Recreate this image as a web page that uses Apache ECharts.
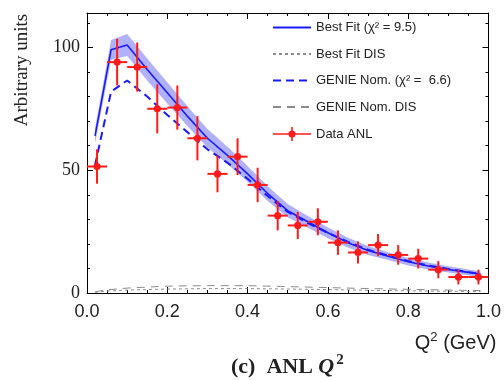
<!DOCTYPE html>
<html>
<head>
<meta charset="utf-8">
<script src="https://cdn.jsdelivr.net/npm/echarts@6/dist/echarts.min.js"></script>
<style>
  html, body { margin: 0; padding: 0; background: #fff; }
  #chart { width: 504px; height: 380px; }
</style>
</head>
<body>
<div id="chart"></div>
<script>
// Model curves sampled in Q^2 (GeV^2)
const curveQ2 = [0.02, 0.06, 0.10, 0.15, 0.20, 0.25, 0.30, 0.35, 0.40, 0.45, 0.50,
                 0.55, 0.60, 0.65, 0.70, 0.75, 0.80, 0.85, 0.90, 0.95, 0.98];
const bestFit = [64, 99, 101, 91, 81.5, 72, 63, 56, 48.5, 40.5, 33.5,
                 29, 24.5, 20.5, 17.3, 15, 12.7, 11, 9.6, 8.4, 7.7];
const bestFitUnc = [3, 4, 4.5, 4.5, 4.3, 4, 3.8, 3.5, 3.2, 3, 2.7,
                    2.4, 2.2, 2, 1.8, 1.6, 1.5, 1.4, 1.3, 1.2, 1.2];
const genieNom = [52, 82, 86.5, 80, 72.5, 65.5, 58.5, 53, 46.5, 39.5, 33,
                  28.5, 24.5, 20.8, 17.6, 15.2, 13, 11.2, 9.8, 8.5, 7.8];

// DIS contributions
const disQ2 = [0.02, 0.05, 0.10, 0.20, 0.30, 0.40, 0.50, 0.60, 0.70, 0.80, 0.90, 0.98];
const bestFitDIS = [0.3, 0.8, 1.2, 1.6, 1.8, 1.8, 1.6, 1.4, 1.1, 0.9, 0.7, 0.6];
const genieNomDIS = [0.5, 1.3, 2.0, 2.8, 3.0, 3.0, 2.6, 2.2, 1.8, 1.5, 1.2, 1.0];

// ANL data points (bin centres, values, uncertainties)
const dataQ2 = [0.025, 0.075, 0.125, 0.175, 0.225, 0.275, 0.325, 0.375, 0.425, 0.475,
                0.525, 0.575, 0.625, 0.675, 0.725, 0.775, 0.825, 0.875, 0.925, 0.975];
const dataVal = [51.5, 94, 92, 75, 75.5, 63, 48.5, 55.5, 44, 31.5,
                 27.5, 29, 20.5, 16.5, 19.5, 15.5, 14, 9.5, 6.5, 6.5];
const dataErr = [7, 9.5, 10, 10, 9, 9, 7.5, 7.5, 7, 6,
                 5.5, 5.5, 5, 4.5, 4.5, 4, 4, 3.5, 3, 3];
const binHalfWidth = 0.025;

const xTicks = [0, 0.2, 0.4, 0.6, 0.8, 1.0];
const yTicks = [0, 50, 100];

const SANS = '"Liberation Sans", Arial, sans-serif';
const SERIF = '"Liberation Serif", "Times New Roman", serif';
const BLUE = '#1a1aff';
const RED = '#ff1a1a';
const GREY = '#8c8c8c';
const INK = '#222';

const zip = (xs, ys) => xs.map((x, i) => [x, ys[i]]);
const points = dataQ2.map((x, i) => [x, dataVal[i], dataErr[i]]);

const frameAxisX = (pos, showLabels) => ({
  type: 'value', min: 0, max: 1, interval: 0.2, position: pos,
  axisLine: { show: true, onZero: false, lineStyle: { color: '#000', width: 1 } },
  axisTick: { show: true, inside: true, length: 6, lineStyle: { color: '#000' } },
  minorTick: { show: true, splitNumber: 4, length: 3, lineStyle: { color: '#000' } },
  splitLine: { show: false },
  axisLabel: showLabels ? {
    show: true, margin: 10, fontFamily: SANS, fontSize: 18, color: INK,
    formatter: v => xTicks.some(t => Math.abs(t - v) < 1e-9) ? v.toFixed(1) : ''
  } : { show: false }
});

const frameAxisY = (pos, showLabels) => ({
  type: 'value', min: 0, max: 114, interval: 50, position: pos,
  axisLine: { show: true, onZero: false, lineStyle: { color: '#000', width: 1 } },
  axisTick: { show: true, inside: true, length: 6, lineStyle: { color: '#000' } },
  minorTick: { show: true, splitNumber: 5, length: 3, lineStyle: { color: '#000' } },
  splitLine: { show: false },
  axisLabel: showLabels ? {
    show: true, margin: 7, fontFamily: SERIF, fontSize: 18, color: INK,
    showMaxLabel: false,
    formatter: v => yTicks.includes(v) ? String(v) : ''
  } : { show: false }
});

// legend entries for plain lines: hide the marker ECharts puts in the middle
const lineEntry = name => ({ name, itemStyle: { opacity: 0 } });

const chart = echarts.init(document.getElementById('chart'), null, { renderer: 'canvas' });

chart.setOption({
  animation: false,
  backgroundColor: '#fff',
  grid: { left: 87, right: 8, top: 13, bottom: 87, containLabel: false },
  xAxis: [
    Object.assign(frameAxisX('bottom', true), {
      name: '{q|Q}{s|2}{r| (GeV)}', nameLocation: 'end', nameGap: 8,
      nameTextStyle: {
        align: 'right', verticalAlign: 'top', padding: [38, 0, 0, 0],
        rich: {
          q: { fontFamily: SANS, fontSize: 20, color: INK, lineHeight: 22, verticalAlign: 'bottom' },
          s: { fontFamily: SANS, fontSize: 13, color: INK, lineHeight: 22, verticalAlign: 'top' },
          r: { fontFamily: SANS, fontSize: 20, color: INK, lineHeight: 22, verticalAlign: 'bottom' }
        }
      }
    }),
    frameAxisX('top', false)
  ],
  yAxis: [frameAxisY('left', true), frameAxisY('right', false)],
  title: {
    text: '{b|(c)}{g| }{n|ANL }{i|Q}{s|2}',
    left: 231, top: 353, padding: 0,
    textStyle: {
      rich: {
        b: { fontFamily: SERIF, fontSize: 22, fontWeight: 'bold', color: INK, lineHeight: 25, verticalAlign: 'bottom' },
        g: { fontFamily: SERIF, fontSize: 22, color: INK, lineHeight: 25, width: 11 },
        n: { fontFamily: SERIF, fontSize: 22, color: INK, lineHeight: 25, verticalAlign: 'bottom' },
        i: { fontFamily: SERIF, fontSize: 22, fontStyle: 'italic', color: INK, lineHeight: 25, verticalAlign: 'bottom' },
        s: { fontFamily: SERIF, fontSize: 15, color: INK, lineHeight: 25, verticalAlign: 'top', padding: [0, 0, 0, 2] }
      }
    }
  },
  graphic: [{
    type: 'text', x: 22, y: 70, rotation: Math.PI / 2,
    style: { text: 'Arbitrary units', fontFamily: SERIF, fontSize: 19, fill: INK,
             textAlign: 'center', textVerticalAlign: 'middle' }
  }],
  legend: {
    orient: 'vertical', left: 272, top: 21, padding: 0,
    itemWidth: 38, itemHeight: 14, itemGap: 13.5,
    textStyle: { fontFamily: SANS, fontSize: 13, color: INK },
    data: [
      lineEntry('Best Fit (\u03C7\u00B2 = 9.5)'),
      lineEntry('Best Fit DIS'),
      lineEntry('GENIE Nom. (\u03C7\u00B2 =  6.6)'),
      lineEntry('GENIE Nom. DIS'),
      { name: 'Data ANL',
        icon: 'path://M0 6.2H38V7.8H0Z M18.2 0H19.8V14H18.2Z M15.5 7A3.5 3.5 0 1 1 22.5 7A3.5 3.5 0 1 1 15.5 7Z' }
    ]
  },
  series: [
    // uncertainty band of the best fit, drawn as one polygon
    {
      name: 'band', type: 'custom', data: [[curveQ2[0], bestFit[0]]], silent: true, z: 1,
      renderItem: (params, api) => {
        const upper = curveQ2.map((x, i) => api.coord([x, bestFit[i] + bestFitUnc[i]]));
        const lower = curveQ2.map((x, i) => api.coord([x, bestFit[i] - bestFitUnc[i]])).reverse();
        return {
          type: 'polygon',
          shape: { points: upper.concat(lower) },
          style: { fill: 'rgba(100, 100, 245, 0.5)' }
        };
      }
    },
    {
      name: 'Best Fit (\u03C7\u00B2 = 9.5)', type: 'line', data: zip(curveQ2, bestFit),
      symbol: 'none', lineStyle: { color: BLUE, width: 1.6 }, itemStyle: { color: BLUE }, z: 3
    },
    {
      name: 'Best Fit DIS', type: 'line', data: zip(disQ2, bestFitDIS),
      symbol: 'none', lineStyle: { color: GREY, width: 1, type: [3, 3] }, itemStyle: { color: GREY }, z: 2
    },
    {
      name: 'GENIE Nom. (\u03C7\u00B2 =  6.6)', type: 'line', data: zip(curveQ2, genieNom),
      symbol: 'none', lineStyle: { color: BLUE, width: 2, type: [8, 5] }, itemStyle: { color: BLUE }, z: 3
    },
    {
      name: 'GENIE Nom. DIS', type: 'line', data: zip(disQ2, genieNomDIS),
      symbol: 'none', lineStyle: { color: GREY, width: 1, type: [8, 6] }, itemStyle: { color: GREY }, z: 2
    },
    {
      name: 'Data ANL', type: 'custom', data: points, itemStyle: { color: RED }, z: 5,
      renderItem: (params, api) => {
        const x = api.value(0), y = api.value(1), e = api.value(2);
        const c = api.coord([x, y]);
        const top = api.coord([x, y + e]);
        const bot = api.coord([x, y - e]);
        const l = api.coord([x - binHalfWidth, y]);
        const r = api.coord([x + binHalfWidth, y]);
        const st = { stroke: RED, lineWidth: 2 };
        return {
          type: 'group',
          children: [
            { type: 'line', shape: { x1: top[0], y1: top[1], x2: bot[0], y2: bot[1] }, style: st },
            { type: 'line', shape: { x1: l[0], y1: l[1], x2: r[0], y2: r[1] }, style: st },
            { type: 'circle', shape: { cx: c[0], cy: c[1], r: 3.6 }, style: { fill: RED } }
          ]
        };
      }
    }
  ]
});
</script>
</body>
</html>
